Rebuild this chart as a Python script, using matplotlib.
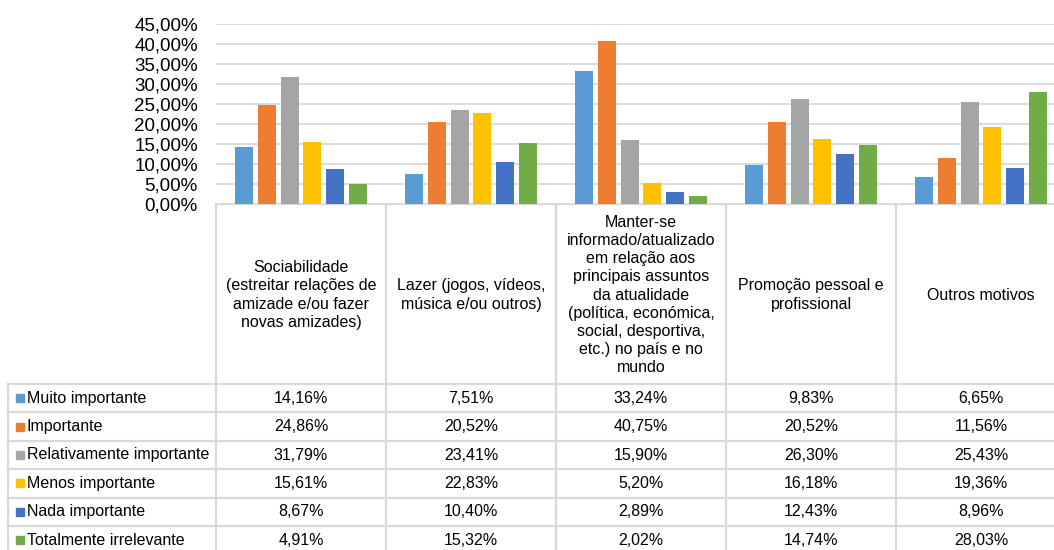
import numpy as np
import matplotlib
matplotlib.use("Agg")
import matplotlib.pyplot as plt
from matplotlib.ticker import FuncFormatter, MultipleLocator

plt.rcParams['font.family'] = ['Liberation Sans', 'DejaVu Sans']

categories = [
    "Sociabilidade\n(estreitar relações de\namizade e/ou fazer\nnovas amizades)",
    "Lazer (jogos, vídeos,\nmúsica e/ou outros)",
    "Manter-se\ninformado/atualizado\nem relação aos\nprincipais assuntos\nda atualidade\n(política, económica,\nsocial, desportiva,\netc.) no país e no\nmundo",
    "Promoção pessoal e\nprofissional",
    "Outros motivos",
]
series_names = ["Muito importante", "Importante", "Relativamente importante",
                "Menos importante", "Nada importante", "Totalmente irrelevante"]
muito = [14.16, 7.51, 33.24, 9.83, 6.65]
importante = [24.86, 20.52, 40.75, 20.52, 11.56]
relativamente = [31.79, 23.41, 15.90, 26.30, 25.43]
menos = [15.61, 22.83, 5.20, 16.18, 19.36]
nada = [8.67, 10.40, 2.89, 12.43, 8.96]
totalmente = [4.91, 15.32, 2.02, 14.74, 28.03]
series = [muito, importante, relativamente, menos, nada, totalmente]
colors = ["#5B9BD5", "#ED7D31", "#A5A5A5", "#FFC000", "#4472C4", "#70AD47"]

W, H = 1054, 550
grid_c = "#d9d9d9"
fs = 11.5

def pct(v):
    return f"{v:.2f}%".replace(".", ",")

fig = plt.figure(figsize=(W / 100, H / 100), dpi=100)

# plot area in pixels: x 216..1066 (cropped on the right), y 24..204
x0, col_w = 216, 170
y_top, y_bot = 24, 204
ax = fig.add_axes([x0 / W, (H - y_bot) / H, 5 * col_w / W, (y_bot - y_top) / H])
n = len(series)
step = 0.133
bw = 0.106
xs = np.arange(len(categories)) + 0.5
for j, (vals, c) in enumerate(zip(series, colors)):
    ax.bar(xs + (j - (n - 1) / 2) * step, vals, width=bw, color=c, zorder=3)
ax.set_xlim(0, len(categories))
ax.set_ylim(0, 45)
ax.yaxis.set_major_locator(MultipleLocator(5))
ax.yaxis.set_major_formatter(FuncFormatter(lambda v, p: pct(v)))
ax.grid(axis="y", color=grid_c, linewidth=1.3, zorder=0)
ax.set_xticks([])
ax.tick_params(axis="y", length=0, pad=13, labelsize=13.5)
for s in ax.spines.values():
    s.set_visible(False)

# data table below the plot, drawn in pixel coordinates
tb = fig.add_axes([0, 0, 1, 1], zorder=-1)
tb.set_xlim(0, W)
tb.set_ylim(H, 0)
tb.axis("off")

head_bot = 384
row_h = 28.4
n_rows = len(series_names)
table_bot = head_bot + row_h * n_rows
lw = 1.6

# axis line / top of table
tb.plot([x0, x0 + 5 * col_w], [y_bot, y_bot], color=grid_c, lw=lw)
for i in range(len(categories) + 1):
    tb.plot([x0 + i * col_w] * 2, [y_bot, table_bot], color=grid_c, lw=lw)
tb.plot([8, 8], [head_bot, table_bot], color=grid_c, lw=lw)
for r in range(n_rows + 1):
    y = head_bot + r * row_h
    tb.plot([8, x0 + 5 * col_w], [y, y], color=grid_c, lw=lw)

for i, cat in enumerate(categories):
    tb.text(x0 + (i + 0.5) * col_w, (y_bot + head_bot) / 2 + 1, cat,
            ha="center", va="center", fontsize=fs, linespacing=1.27)

for r, (name, vals, c) in enumerate(zip(series_names, series, colors)):
    yc = head_bot + (r + 0.5) * row_h
    tb.add_patch(plt.Rectangle((15.5, yc - 4), 8, 8, color=c))
    tb.text(27, yc, name, ha="left", va="center", fontsize=fs)
    for i, v in enumerate(vals):
        tb.text(x0 + (i + 0.5) * col_w, yc, pct(v), ha="center", va="center", fontsize=fs)

fig.savefig("out.png", dpi=100)
